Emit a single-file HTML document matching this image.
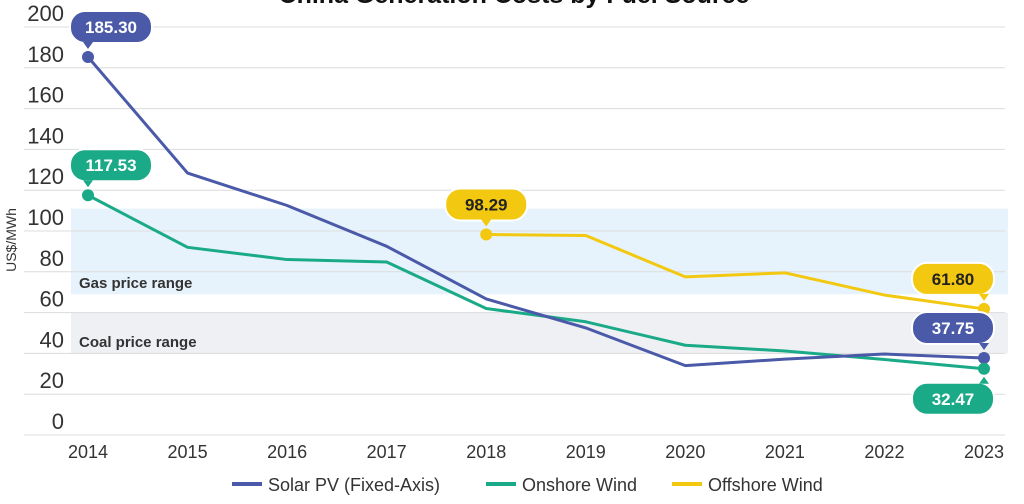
<!DOCTYPE html>
<html><head><meta charset="utf-8"><style>
body{margin:0;background:#fff;width:1024px;height:499px;overflow:hidden;font-family:"Liberation Sans",sans-serif}
</style></head><body>
<svg id="chart" width="1024" height="499" xmlns="http://www.w3.org/2000/svg" font-family="Liberation Sans, sans-serif"></svg>
<script>
const years=[2014,2015,2016,2017,2018,2019,2020,2021,2022,2023];
const solarVals=[185.3,128.4,112.5,92.5,66.7,52.5,34,37.2,39.7,37.75];
const onshoreVals=[117.53,92,86,84.8,62,55.5,44,41.2,37,32.47];
const offshoreVals=[null,null,null,null,98.29,97.8,77.5,79.5,68.6,61.8];
const yTicks=[0,20,40,60,80,100,120,140,160,180,200];
const gasRange=[69,111];
const coalRange=[40,60];
const svg=document.getElementById('chart');
const NS='http://www.w3.org/2000/svg';
const x=i=>88+i*(984-88)/9;
const y=v=>435-v*2.04;
function mk(tag,attrs,parent){const e=document.createElementNS(NS,tag);for(const k in attrs)e.setAttribute(k,attrs[k]);(parent||svg).appendChild(e);return e;}
let t=mk('text',{x:514,y:3,'text-anchor':'middle','font-size':25,'font-weight':'bold',fill:'#111'});


t.textContent='China Generation Costs by Fuel Source';
let g=mk('rect',{x:71,y:y(gasRange[1]),width:937,height:y(gasRange[0])-y(gasRange[1]),fill:'#e7f3fc'});


let c=mk('rect',{x:71,y:y(coalRange[1]),width:937,height:y(coalRange[0])-y(coalRange[1]),fill:'#eef0f4'});


yTicks.forEach(v=>{
  let l=mk('line',{x1:24,x2:1005,y1:y(v),y2:y(v),stroke:'#dcdcdc','stroke-width':1});
  
  
  let tx=mk('text',{x:64,y:y(v)-6,'text-anchor':'end','font-size':22,fill:'#333'});
  
  
  tx.textContent=v;
});
let yt=mk('text',{x:0,y:0,transform:'translate(16,240) rotate(-90)','text-anchor':'middle','font-size':14,fill:'#333'});


yt.textContent='US$/MWh';
let gl=mk('text',{x:79,y:288,'font-size':15,'font-weight':'bold',fill:'#333'});


gl.textContent='Gas price range';
let cl=mk('text',{x:79,y:347,'font-size':15,'font-weight':'bold',fill:'#333'});


cl.textContent='Coal price range';
years.forEach((yr,i)=>{
  let tx=mk('text',{x:x(i),y:458,'text-anchor':'middle','font-size':18,fill:'#333'});
  
  
  tx.textContent=yr;
});
function series(vals,color,name){
  const pts=vals.map((v,i)=>v==null?null:[x(i),y(v)]).filter(p=>p);
  let p=mk('polyline',{points:pts.map(p=>p.join(',')).join(' '),fill:'none',stroke:color,'stroke-width':3,'stroke-linejoin':'round'});
  
  
}
series(offshoreVals,'#f2c811','offshore-wind');
series(onshoreVals,'#1aaa87','onshore-wind');
series(solarVals,'#4a5aa8','solar-pv');
function callout(i,v,color,txtColor,above,name,off){
  const px=x(i),py=y(v);
  let d=mk('circle',{cx:px,cy:py,r:6,fill:color});
  
  
  const w=82,h=32;
  let bx=px+off;
  let by=above?py-h-14:py+14;
  let r=mk('rect',{x:bx,y:by,width:w,height:h,rx:15,fill:color,stroke:'#fff','stroke-width':2});
  
  
  const ty=above?by+h:by;
  mk('polygon',{points:above?`${px-5},${ty-1} ${px+5},${ty-1} ${px},${ty+6}`:`${px-5},${ty+1} ${px+5},${ty+1} ${px},${ty-6}`,fill:color});
  let tx=mk('text',{x:bx+w/2,y:by+22,'text-anchor':'middle','font-size':17,'font-weight':'bold',fill:txtColor});
  
  
  tx.textContent=v.toFixed(2);
}
callout(0,solarVals[0],'#4a5aa8','#fff',true,'solar-start',-18);
callout(0,onshoreVals[0],'#1aaa87','#fff',true,'onshore-start',-18);
callout(4,offshoreVals[4],'#f2c811','#222',true,'offshore-start',-41);
callout(9,offshoreVals[9],'#f2c811','#222',true,'offshore-end',-72);
callout(9,solarVals[9],'#4a5aa8','#fff',true,'solar-end',-72);
callout(9,onshoreVals[9],'#1aaa87','#fff',false,'onshore-end',-72);
const legend=[['Solar PV (Fixed-Axis)','#4a5aa8',232],['Onshore Wind','#1aaa87',486],['Offshore Wind','#f2c811',672]];
legend.forEach(([lab,col,lx])=>{
  let l=mk('line',{x1:lx,x2:lx+30,y1:484,y2:484,stroke:col,'stroke-width':4});
  
  
  let tx=mk('text',{x:lx+36,y:491,'font-size':18,fill:'#333'});
  
  
  tx.textContent=lab;
});
</script>
</body></html>
